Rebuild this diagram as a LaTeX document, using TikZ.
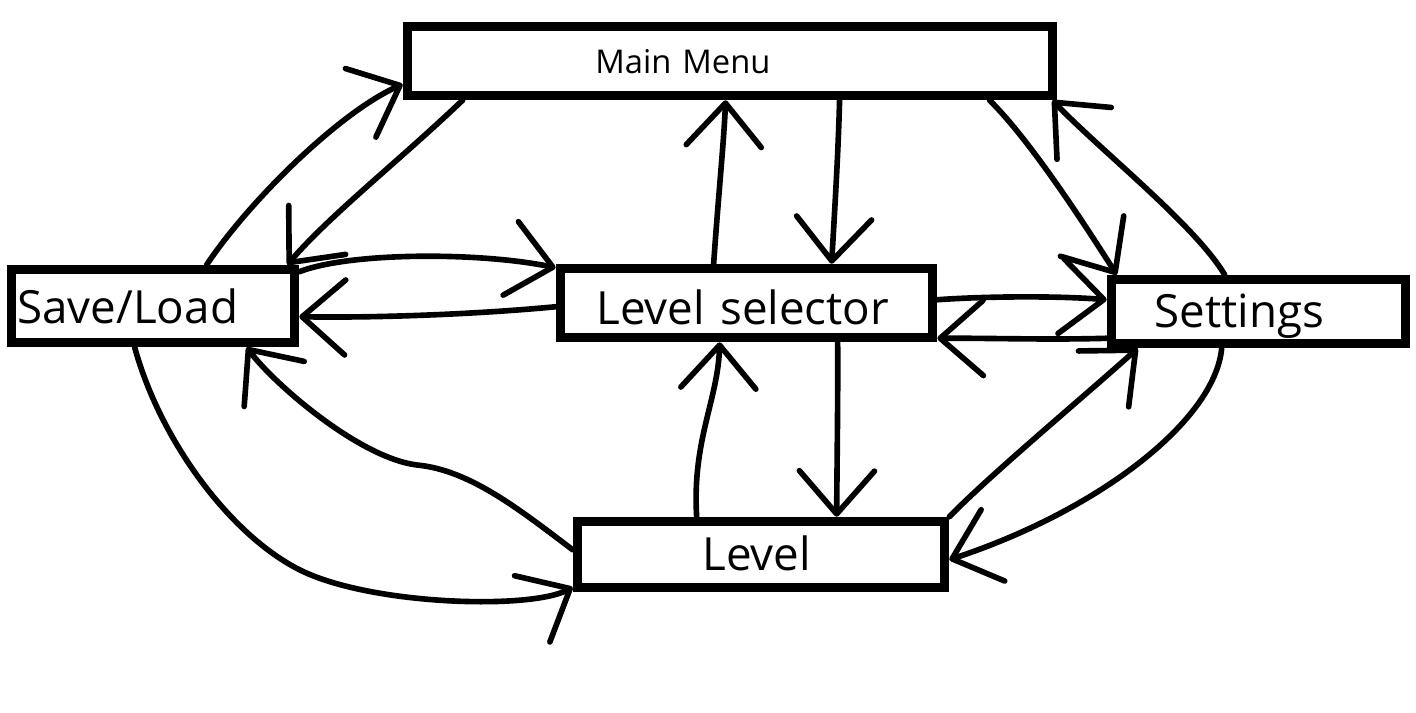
\documentclass[tikz,border=0pt]{standalone}
\usepackage{fontspec}
\setmainfont{Open Sans}
\usetikzlibrary{arrows.meta,calc}

\tikzset{
  screen/.style={draw=black, line width=2.7pt, inner xsep=0pt, inner ysep=0pt,
    align=left, text height=9.3pt, text depth=0pt, font=\fontsize{13}{15}\selectfont},
  flow/.style={line width=1.6pt, line cap=round, line join=round,
    -{Straight Barb[length=4.3mm,width=7.5mm,round]}}
}

\begin{document}
\begin{tikzpicture}[x=0.01cm, y=-0.01cm]
  \useasboundingbox (0,0) rectangle (1416,712);

  % Draw the five screens
  \node[screen, text width=6.45cm, minimum height=0.69cm, text height=7.2pt,
    font=\fontsize{9.3}{11}\selectfont] (mainmenu) at (730,61) {\hspace*{1.88cm}Main Menu};
  \node[screen, text width=2.83cm, minimum height=0.73cm, text height=10pt] (saveload) at (153,306) {\hspace*{0.06cm}Save/Load};
  \node[screen, text width=3.72cm, minimum height=0.69cm, text height=12.1pt] (levelsel) at (746.5,303) {\hspace*{0.36cm}Level selector};
  \node[screen, text width=2.94cm, minimum height=0.64cm] (settings) at (1258.5,311.5) {\hspace*{0.43cm}Settings};
  \node[screen, text width=3.67cm, minimum height=0.66cm] (level) at (761,554.5) {\hspace*{1.25cm}Level};

  % Main Menu and Save/Load
  \draw[flow] ($(saveload.north west)+(200,0)$) .. controls (250,200) and (340,112) .. ($(mainmenu.south west)+(0,-16)$);
  \draw[flow] ($(mainmenu.south west)+(60,0)$) .. controls (400,160) and (330,215) .. ($(saveload.north east)+(-12,0)$);

  % Main Menu and Level selector
  \draw[flow] ($(levelsel.north west)+(158,0)$) .. controls (718,200) and (724,140) .. ($(mainmenu.south west)+(323,0)$);
  \draw[flow] ($(mainmenu.south west)+(437,0)$) .. controls (838,160) and (834,220) .. ($(levelsel.north west)+(276,0)$);

  % Main Menu and Settings
  \draw[flow] ($(mainmenu.south west)+(587,0)$) .. controls (1030,140) and (1085,225) .. ($(settings.north west)+(10,0)$);
  \draw[flow] ($(settings.north west)+(118,0)$) .. controls (1195,225) and (1100,150) .. ($(mainmenu.south east)+(-5,0)$);

  % Level selector and its neighbours
  \draw[flow] ($(saveload.north east)+(0,7)$) .. controls (350,252) and (480,252) .. ($(levelsel.north west)+(0,4)$);
  \draw[flow] ($(levelsel.north west)+(0,43)$) .. controls (480,314) and (380,318) .. ($(saveload.north east)+(0,52)$);
  \draw[flow] ($(levelsel.north east)+(0,36)$) .. controls (990,296) and (1060,296) .. ($(settings.north west)+(0,25)$);
  \draw[flow] ($(settings.south west)+(0,-10)$) .. controls (1050,340) and (990,338) .. ($(levelsel.south east)+(0,-4)$);
  \draw[flow] ($(level.north west)+(124,0)$) .. controls (692,440) and (718,400) .. ($(levelsel.south west)+(164,0)$);
  \draw[flow] ($(levelsel.south west)+(282,0)$) .. controls (838,400) and (837,460) .. ($(level.north west)+(264,0)$);

  % Level and Settings
  \draw[flow] (level.north east) .. controls (990,475) and (1080,400) .. ($(settings.south west)+(31,0)$);
  \draw[flow] ($(settings.south west)+(115,0)$) .. controls (1215,420) and (1100,510) .. ($(level.north east)+(0,43)$);

  % Level and Save/Load
  \draw[flow] ($(saveload.south west)+(128,0)$) .. controls (160,440) and (230,535) .. (300,570)
    .. controls (370,605) and (530,610) .. ($(level.south west)+(0,-5)$);
  \draw[flow] ($(level.north west)+(0,33)$) .. controls (520,510) and (470,470) .. (417,465)
    .. controls (360,458) and (275,385) .. ($(saveload.south west)+(240,0)$);
\end{tikzpicture}
\end{document}
